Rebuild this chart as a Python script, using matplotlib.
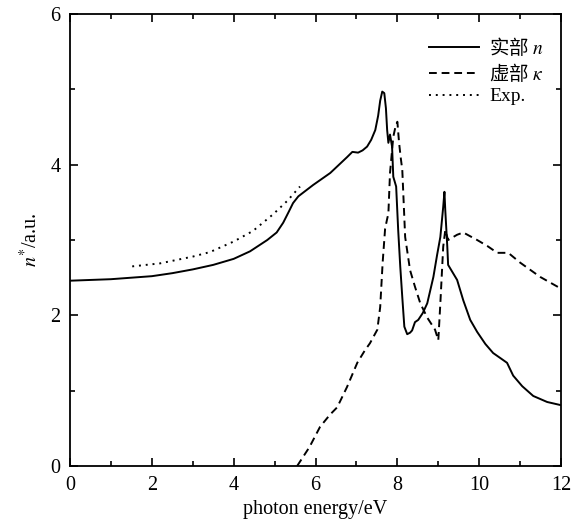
import numpy as np
import matplotlib
matplotlib.use("Agg")
import matplotlib.pyplot as plt
from matplotlib.ticker import MultipleLocator

plt.rcParams['mathtext.fontset'] = 'stix'
plt.rcParams['font.family'] = ['Liberation Serif', 'Noto Sans CJK SC']

# real part n
n_x = [0.0, 0.5, 1.0, 1.5, 2.0, 2.5, 3.0, 3.5, 4.0, 4.4, 4.82, 5.05, 5.21, 5.35, 5.45,
       5.58, 5.70, 5.94, 6.36, 6.77, 6.90, 7.04, 7.15, 7.26, 7.36, 7.46, 7.53, 7.58,
       7.63, 7.68, 7.72, 7.75, 7.78, 7.82, 7.87, 7.90, 7.97, 8.02, 8.07, 8.12, 8.17,
       8.24, 8.31, 8.36, 8.43, 8.51, 8.62, 8.73, 8.88, 8.97, 9.05, 9.12, 9.15, 9.17,
       9.22, 9.24, 9.46, 9.61, 9.78, 9.95, 10.15, 10.34, 10.55, 10.68, 10.83, 11.05,
       11.32, 11.66, 11.98]
n_y = [2.46, 2.47, 2.48, 2.50, 2.52, 2.56, 2.61, 2.67, 2.75, 2.85, 3.00, 3.10, 3.23,
       3.38, 3.49, 3.58, 3.63, 3.73, 3.89, 4.10, 4.17, 4.16, 4.19, 4.24, 4.33, 4.46,
       4.65, 4.85, 4.97, 4.95, 4.75, 4.46, 4.29, 4.40, 4.24, 3.84, 3.71, 3.13, 2.65,
       2.24, 1.85, 1.75, 1.77, 1.80, 1.91, 1.94, 2.03, 2.16, 2.51, 2.80, 3.04, 3.44,
       3.64, 3.40, 2.91, 2.67, 2.47, 2.20, 1.94, 1.78, 1.62, 1.50, 1.42, 1.37, 1.20,
       1.06, 0.93, 0.85, 0.81]

# imaginary part kappa
k_x = [5.55, 5.85, 6.11, 6.35, 6.53, 6.77, 7.02, 7.20, 7.33, 7.51, 7.58, 7.64, 7.70,
       7.75, 7.78, 7.82, 7.90, 7.96, 8.00, 8.04, 8.08, 8.12, 8.19, 8.31, 8.43, 8.56,
       8.73, 8.92, 9.00, 9.05, 9.12, 9.17, 9.24, 9.46, 9.61, 9.95, 10.20, 10.44, 10.71,
       11.00, 11.49, 11.98]
k_y = [0.0, 0.25, 0.52, 0.68, 0.78, 1.05, 1.37, 1.53, 1.63, 1.81, 2.11, 2.70, 3.15,
       3.28, 3.35, 3.89, 4.37, 4.52, 4.57, 4.30, 4.10, 3.93, 3.04, 2.60, 2.38, 2.16,
       1.97, 1.81, 1.67, 2.16, 2.91, 3.13, 3.00, 3.07, 3.10, 3.00, 2.92, 2.83, 2.83,
       2.70, 2.51, 2.36]

# experimental
e_x = [1.52, 2.20, 3.00, 3.42, 4.00, 4.47, 4.96, 5.31, 5.62]
e_y = [2.65, 2.69, 2.78, 2.84, 2.98, 3.12, 3.34, 3.52, 3.71]

fig = plt.figure(figsize=(5.71, 5.27), dpi=100)
ax = fig.add_axes([0.1226, 0.1157, 0.86, 0.8577])

ax.plot(n_x, n_y, color='black', lw=1.4, label='实部 $n$')
ax.plot(k_x, k_y, color='black', lw=1.4, ls=(0, (4, 2.5)), label='虚部 $\\kappa$')
ax.plot(e_x, e_y, color='black', lw=1.4, ls=(0, (1, 2.5)), label='Exp.')

ax.set_xlim(0, 12)
ax.set_ylim(0, 6)
ax.xaxis.set_major_locator(MultipleLocator(2))
ax.xaxis.set_minor_locator(MultipleLocator(1))
ax.yaxis.set_major_locator(MultipleLocator(2))
ax.yaxis.set_minor_locator(MultipleLocator(1))
ax.tick_params(which='both', direction='in', top=True, right=True, labelsize=14.5, width=1.2)
ax.tick_params(which='major', length=6, pad=7)
ax.tick_params(which='minor', length=3.5)
for s in ax.spines.values():
    s.set_linewidth(1.3)

ax.set_xlabel('photon energy/eV', fontsize=14.5, labelpad=4)
ax.set_ylabel('$n^{*}$/a.u.', fontsize=14.5, labelpad=6)

leg = ax.legend(loc='upper right', bbox_to_anchor=(1.0, 0.99), frameon=False,
                handlelength=2.6, handletextpad=0.5, labelspacing=0.15,
                prop={'family': 'Noto Sans CJK SC', 'size': 14})
leg.get_texts()[2].set_family('Liberation Serif')

fig.savefig('out.png', dpi=100)
